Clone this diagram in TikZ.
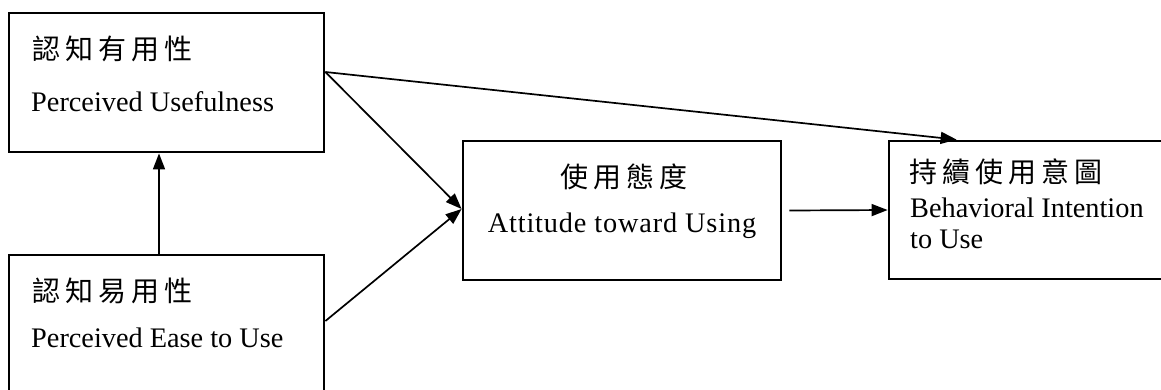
\documentclass[tikz,border=0pt]{standalone}
\usepackage{fontspec}
\setmainfont{Liberation Serif}
\newfontfamily\cjk[LetterSpace=18]{Noto Sans CJK TC}
\usetikzlibrary{arrows.meta}
\begin{document}
\begin{tikzpicture}[x=1pt,y=-1pt,
  box/.style={draw=black,line width=2.8pt,rectangle,inner sep=0pt},
  lbl/.style={anchor=base west,inner sep=0pt,font=\fontsize{28.3}{34}\selectfont},
  clbl/.style={anchor=base west,inner sep=0pt,font=\fontsize{28}{34}\selectfont\cjk},
  arr/.style={line width=1.7pt,-{Triangle[length=16pt,width=12pt]}}]
\useasboundingbox (0,0) rectangle (1161,389);
% boxes
\node[box,minimum width=315pt,minimum height=139pt] (pu) at (166.5,82.5) {};
\node[box,minimum width=315pt,minimum height=165pt] (peou) at (166.5,337.5) {};
\node[box,minimum width=318pt,minimum height=139pt] (att) at (622,210.5) {};
\node[box,minimum width=311pt,minimum height=138pt] (bi) at (1044.5,210) {};
% texts
\node[clbl] (t1) at (32,59) {認知有用性};
\node[lbl] (e1) at (31,111) {Perceived Usefulness};
\node[clbl] (t2) at (32,301) {認知易用性};
\node[lbl] (e2) at (31,347) {Perceived Ease to Use};
\node[clbl,anchor=base] (t3) at (624,187) {使用態度};
\node[lbl,anchor=base,font=\fontsize{28.3}{34}\selectfont\addfontfeature{LetterSpace=3}] (e3) at (622,232) {Attitude toward Using};
\node[clbl] (t4) at (909,182) {持續使用意圖};
\node[lbl] (e4a) at (910,217) {Behavioral Intention};
\node[lbl] (e4b) at (910,248) {to Use};
% connectors
\coordinate (puout) at ([yshift=10.5pt]pu.east);
\coordinate (peouout) at ([yshift=16.5pt]peou.east);
\draw[arr] ([xshift=-7.5pt]peou.north) -- ([xshift=-7.5pt]pu.south);
\draw[arr] (puout) -- ([xshift=69pt]bi.north west);
\draw[arr] (puout) -- ([yshift=1.5pt]att.west);
\draw[arr] (peouout) -- ([yshift=1.5pt]att.west);
\draw[arr] ([xshift=7pt]att.east) -- (bi.west);
\end{tikzpicture}
\end{document}
